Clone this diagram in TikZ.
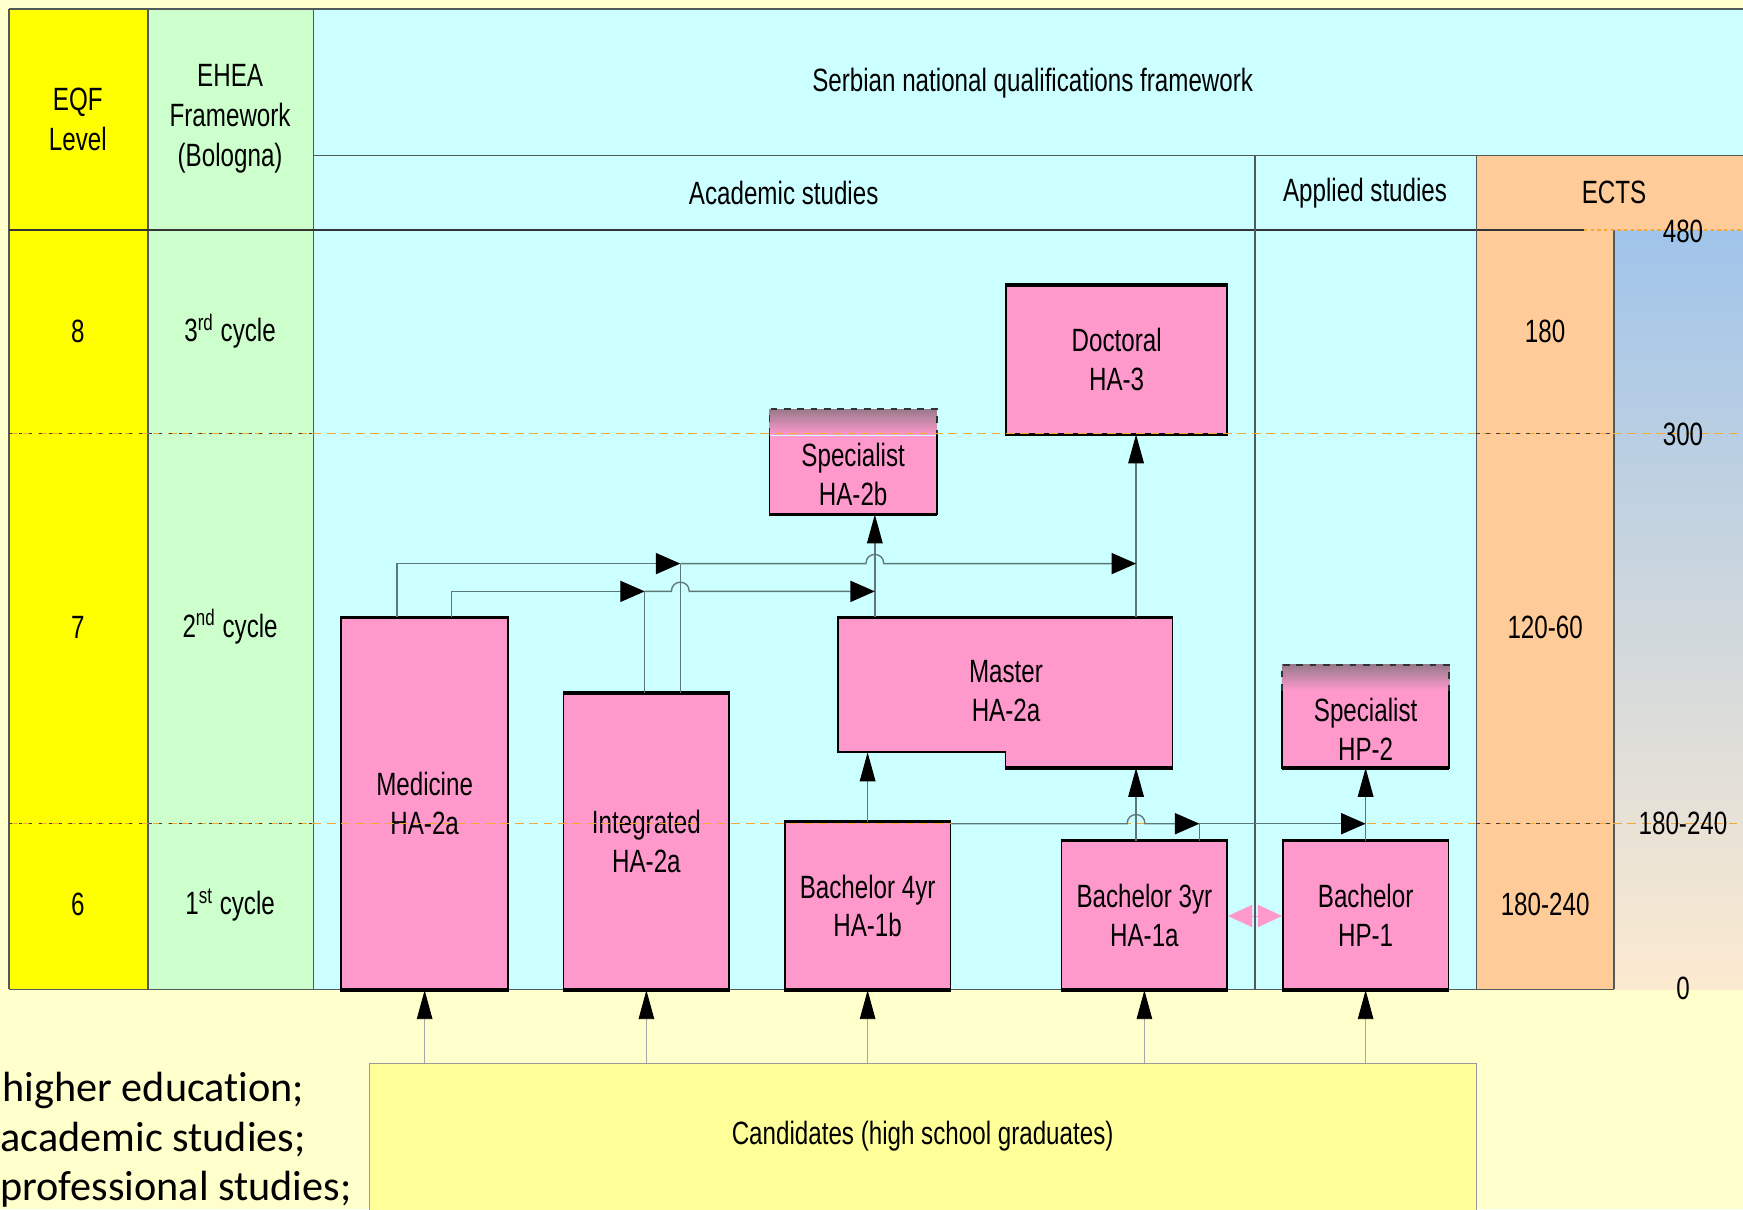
\documentclass[tikz,border=0pt]{standalone}
\usepackage{fontspec}
\setmainfont{Liberation Sans}[FakeStretch=0.75]
\newfontfamily\legendfont{Carlito}[Ligatures=NoCommon]
\usetikzlibrary{arrows.meta,calc}
\definecolor{bgy}{HTML}{FFFFCC}
\definecolor{eqfc}{HTML}{FFFF00}
\definecolor{eheac}{HTML}{CCFFCC}
\definecolor{nqfc}{HTML}{CCFFFF}
\definecolor{ectsc}{HTML}{FFCC99}
\definecolor{boxp}{HTML}{FF99CC}
\definecolor{candc}{HTML}{FFFF99}
\definecolor{gtop}{HTML}{A0C4EA}
\definecolor{gbot}{HTML}{FCEAD0}
\definecolor{dashc}{HTML}{F7A833}
\definecolor{connc}{HTML}{5E7878}
\definecolor{gridc}{HTML}{505a5a}
\definecolor{specc}{HTML}{9A7A8C}
\begin{document}
\begin{tikzpicture}[x=0.5pt,y=-0.5pt,
  font=\fontsize{14.5}{17.5}\selectfont,
  box/.style={draw=black, line width=0.8pt, fill=boxp, inner sep=0pt, align=center},
  sz/.style 2 args={minimum width=#1*0.5pt, minimum height=#2*0.5pt},
  lbl/.style={align=center, inner sep=0pt},
  hdr/.style={align=center, inner sep=0pt, font=\fontsize{14.5}{18}\selectfont},
  gridl/.style={draw=gridc, line width=0.6pt},
  connl/.style={draw=connc, line width=0.6pt},
  harr/.style={connl, -{Triangle[length=11pt,width=9.5pt,color=black]}},
  varr/.style={connl, -{Triangle[length=13pt,width=7pt,color=black]}},
  carr/.style={draw=gray!70, line width=0.4pt, -{Triangle[length=13pt,width=7pt,color=black]}},
  odash/.style={draw=dashc, line width=0.7pt, dash pattern=on 4pt off 2.5pt},
  ddash/.style={draw=black!75, line width=0.7pt, dash pattern=on 1.5pt off 3pt},
  legend/.style={anchor=base west, inner sep=0pt, font=\legendfont\fontsize{19}{23}\selectfont},
]
\useasboundingbox (0,0) rectangle (1568,1088);
% backgrounds
\fill[bgy] (0,0) rectangle (1568,1088);
\fill[eqfc] (8,8) rectangle (133,890);
\fill[eheac] (133,8) rectangle (282,890);
\fill[nqfc] (282,8) rectangle (1568,890);
\fill[ectsc] (1328,140) rectangle (1568,207);
\fill[ectsc] (1328,207) rectangle (1452,890);
\shade[top color=gtop, bottom color=gbot] (1452,207) rectangle (1568,890);
% grid
\draw[gridl] (8,8) -- (1568,8);
\draw[gridl] (8,8) -- (8,890);
\draw[gridl] (133,8) -- (133,890);
\draw[gridl] (282,8) -- (282,890);
\draw[gridl] (282,140) -- (1568,140);
\draw[gridl, draw=black!80] (8,207) -- (1425,207);
\draw[gridl] (1328,140) -- (1328,890);
\draw[gridl] (1452,207) -- (1452,890);
\draw[gridl] (8,890) -- (1452,890);

% boxes
\node[box, sz={199}{133}] (doc) at (1004.5,323.5) {Doctoral\\HA-3};
\node[box, draw=none, sz={149}{70}] (spa) at (767.5,427) {Specialist\\HA-2b};
\node[box, draw=none, sz={149}{68}] (hp2) at (1228.5,656) {Specialist\\HP-2};
\node[box, sz={150}{334}] (med) at (382,723) {Medicine\\HA-2a};
\node[box, sz={149}{266}] (int) at (581.5,757) {Integrated\\HA-2a};
\node[box, sz={149}{150}] (b4) at (780.5,815) {Bachelor 4yr\\HA-1b};
\node[box, sz={149}{133}] (b3) at (1029.5,823.5) {Bachelor 3yr\\HA-1a};
\node[box, sz={149}{133}] (hp1) at (1228.5,823.5) {Bachelor\\HP-1};
\node[box, draw=none, fill=none, sz={299}{134}] (mas) at (904.5,623) {};
\coordinate (mnotch) at ($(mas.south west)+(0,-14)$);
\filldraw[fill=boxp, draw=black, line width=0.8pt] (mas.north west) -- (mas.north east) -- (mas.south east) -- (mas.south) -- ($(mas.south)+(0,-14)$) -- (mnotch) -- cycle;
\draw[line width=1.5pt] (mas.north west) -- (mas.north east);
\draw[line width=1.5pt] (mas.south) -- (mas.south east);
\node[lbl] (mast) at (905,622) {Master\\HA-2a};
% specialist boxes with shaded caps
\foreach \n in {spa,hp2} {
  \shade[top color=specc, bottom color=boxp] (\n.north west) rectangle ($(\n.north east)+(0,-23)$);
  \draw[black!80, line width=0.8pt, dashed] (\n.north west) -- ($(\n.north west)+(0,-23)$) -- ($(\n.north east)+(0,-23)$) -- (\n.north east);
  \draw[black, line width=0.8pt] (\n.north west) -- (\n.south west) -- (\n.south east) -- (\n.north east);
  \draw[line width=1.5pt] (\n.south west) -- (\n.south east);
}
\foreach \n in {doc,med,int,b4,b3,hp1} {
  \draw[line width=1.5pt] (\n.north west) -- (\n.north east);
  \draw[line width=1.5pt] (\n.south west) -- (\n.south east);
}
\node[draw=gray!80, line width=0.5pt, fill=candc, inner sep=0pt, sz={996}{143}] (cand) at (830,1028.5) {};
\node[lbl] (candt) at (830,1022) {Candidates (high school graduates)};

% pink double arrow between the bachelor boxes
\coordinate (ydbl) at (0,824);
\draw[boxp, line width=0.1pt, {Triangle[length=10.8pt,width=10pt]}-{Triangle[length=10.8pt,width=10pt]}] (b3.east |- ydbl) -- (hp1.west |- ydbl);
\draw[gridl] (1129,140) -- (1129,890);

% dashed level lines
\draw[draw=dashc, line width=0.7pt, dash pattern=on 1.5pt off 1.5pt] (1425,207) -- (1568,207);
\foreach \yy in {390,741} {
  \draw[odash] (8,\yy) -- (1568,\yy);
  \draw[ddash] (8,\yy) -- (282,\yy);
  \draw[ddash] (1328,\yy) -- (1452,\yy);
}

% connectors
\coordinate (xA) at (1022,0);
\coordinate (xB) at (787,0);
\coordinate (xC) at (1079,0);
\coordinate (xM1) at (357,0);
\coordinate (xM2) at (406,0);
\coordinate (xI1) at (580,0);
\coordinate (xI2) at (612,0);
\coordinate (yU) at (0,507);
\coordinate (yL) at (0,532);
\coordinate (yH) at (0,741);

\draw[varr] (mas.north -| xA) -- (doc.south -| xA);
\draw[varr] (mas.north -| xB) -- (spa.south -| xB);
\draw[varr] (b3.north -| xA) -- (mas.south -| xA);
\draw[varr] (b4.north) -- (b4.north |- mnotch);
\draw[varr] (hp1.north) -- (hp2.south);

\draw[harr] (b4.north east |- yH) -- ($(xA|-yH)+(-8,0)$) .. controls +(0,-11) and +(0,-11) .. ($(xA|-yH)+(8,0)$) -- (xC|-yH);
\draw[harr] (xC|-yH) -- (hp1.north |- yH);
\draw[connl] (b3.north -| xC) -- (xC|-yH);

\draw[harr] (med.north -| xM1) |- (xI2|-yU);
\draw[harr] (xI2|-yU) -- ($(xB|-yU)+(-8,0)$) .. controls +(0,-11) and +(0,-11) .. ($(xB|-yU)+(8,0)$) -- (xA|-yU);
\draw[harr] (med.north -| xM2) |- (xI1|-yL);
\draw[harr] (xI1|-yL) -- ($(xI2|-yL)+(-8,0)$) .. controls +(0,-11) and +(0,-11) .. ($(xI2|-yL)+(8,0)$) -- (xB|-yL);
\draw[connl] (int.north -| xI1) -- (xI1|-yL);
\draw[connl] (int.north -| xI2) -- (xI2|-yU);

\foreach \n in {med,int,b4,b3,hp1} {
  \draw[carr] (cand.north -| \n.south) -- (\n.south);
}

% header and table text
\node[hdr] (eqfh) at (70,107) {EQF\\Level};
\node[hdr] (eheah) at (207,107) {EHEA\\Framework\\(Bologna)};
\node[lbl] (nqfh) at (929,75) {Serbian national qualifications framework};
\node[lbl] (acah) at (705,174) {Academic studies};
\node[lbl] (apph) at (1228,174) {Applied studies};
\node[lbl] (ectsh) at (1452,173) {ECTS};
\node[lbl] (l8) at (70,298) {8};
\node[lbl] (l7) at (70,564) {7};
\node[lbl] (l6) at (70,814) {6};
\node[lbl] (c3) at (207,298) {3\textsuperscript{rd} cycle};
\node[lbl] (c2) at (207,564) {2\textsuperscript{nd} cycle};
\node[lbl] (c1) at (207,814) {1\textsuperscript{st} cycle};
\node[lbl] (e8) at (1390,298) {180};
\node[lbl] (e7) at (1390,564) {120-60};
\node[lbl] (e6) at (1390,814) {180-240};
\node[lbl] (r480) at (1514,208) {480};
\node[lbl] (r300) at (1514,391) {300};
\node[lbl] (r180) at (1514,741) {180-240};
\node[lbl] (r0) at (1514,889) {0};

% legend
\node[legend] (lg1) at (2,991) {higher education;};
\node[legend] (lg2) at (0,1036) {academic studies;};
\node[legend] (lg3) at (0,1080) {professional studies;};
\end{tikzpicture}
\end{document}
